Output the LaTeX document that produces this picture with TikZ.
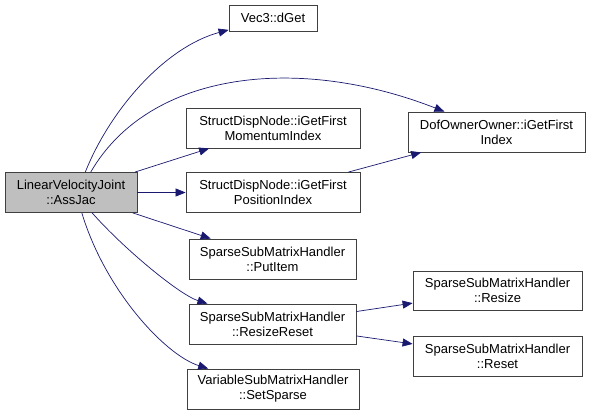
\documentclass[tikz,border=0pt]{standalone}
\usepackage{fontspec}
\setmainfont{Liberation Sans}
\usetikzlibrary{calc,shapes,arrows.meta}
\definecolor{edgeblue}{HTML}{191970}
\definecolor{rootgray}{HTML}{BFBFBF}

\begin{document}
\begin{tikzpicture}[x=1pt,y=-1pt,
    fn/.style={draw=black!75, line width=0.8pt, fill=white, align=center, inner sep=0pt,
      font=\fontsize{13}{15}\selectfont},
    call/.style={draw=edgeblue, line width=0.7pt, -{Triangle[length=10pt,width=8pt]}}]
    \useasboundingbox (0,0) rectangle (592,415);

    \node [fn, fill=rootgray, minimum width=132pt, minimum height=40pt] (assjac) at (71,192.5) {LinearVelocityJoint\\::AssJac};
    \node [fn, minimum width=88pt, minimum height=26pt] (dget) at (273,18) {Vec3::dGet};
    \node [fn, minimum width=174pt, minimum height=40pt] (momidx) at (273,128) {StructDispNode::iGetFirst\\MomentumIndex};
    \node [fn, minimum width=174pt, minimum height=40pt] (posidx) at (273,192.5) {StructDispNode::iGetFirst\\PositionIndex};
    \node [fn, minimum width=167pt, minimum height=40pt] (putitem) at (272.5,259) {SparseSubMatrixHandler\\::PutItem};
    \node [fn, minimum width=167pt, minimum height=40pt] (resreset) at (272.5,324) {SparseSubMatrixHandler\\::ResizeReset};
    \node [fn, minimum width=172pt, minimum height=40pt] (setsparse) at (273,389) {VariableSubMatrixHandler\\::SetSparse};
    \node [fn, minimum width=177pt, minimum height=40pt] (firstidx) at (496.5,132) {DofOwnerOwner::iGetFirst\\Index};
    \node [fn, minimum width=169pt, minimum height=39pt] (resize) at (497.5,290.5) {SparseSubMatrixHandler\\::Resize};
    \node [fn, minimum width=169pt, minimum height=40pt] (reset) at (497.5,356) {SparseSubMatrixHandler\\::Reset};

    % calls out of AssJac
    \draw [call] (assjac.55) .. controls (110,110) and (165,47) .. (dget);
    \draw [call] (assjac.46) .. controls (150,70) and (300,55) .. (firstidx);
    \draw [call] (assjac) -- (momidx);
    \draw [call] (assjac) -- (posidx);
    \draw [call] (assjac) -- (putitem);
    \draw [call] (assjac.-44) .. controls (125,250) and (180,295) .. (resreset);
    \draw [call] (assjac.-62) .. controls (105,290) and (165,355) .. (setsparse);

    % second level
    \draw [call] (posidx) -- (firstidx);
    \draw [call] (resreset) -- (resize);
    \draw [call] (resreset) -- (reset);
\end{tikzpicture}
\end{document}
